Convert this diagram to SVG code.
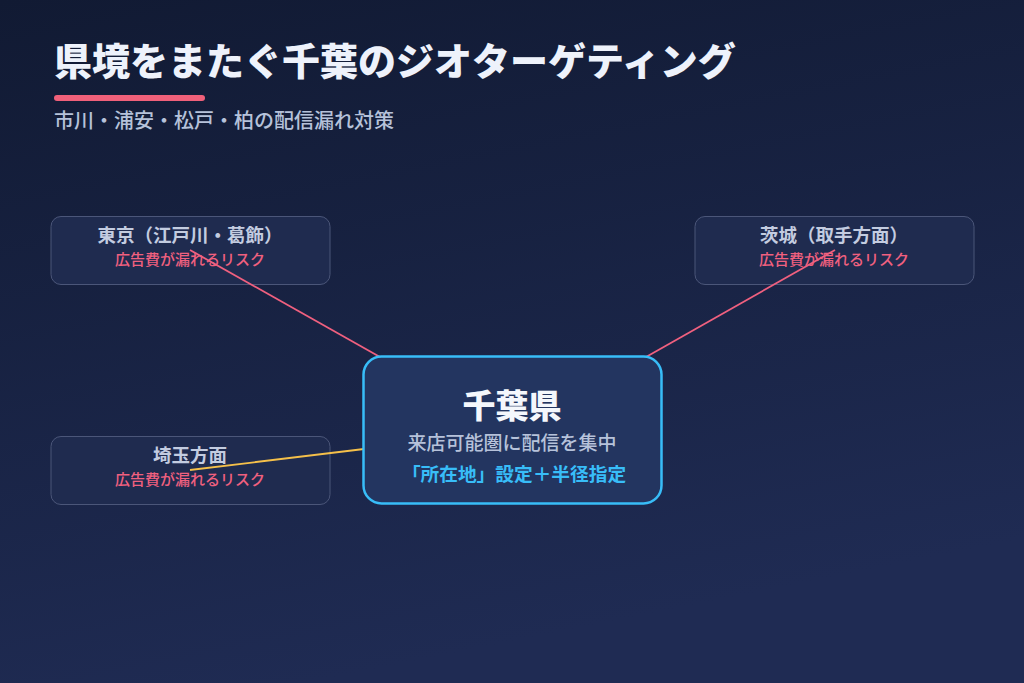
<svg xmlns="http://www.w3.org/2000/svg" width="1024" height="683" viewBox="0 0 1024 683">
<defs>
<linearGradient id="bg" x1="0" y1="0" x2="0.3" y2="1">
<stop offset="0" stop-color="#111a33"/>
<stop offset="1" stop-color="#1f2b53"/>
</linearGradient>
<style>
text{font-family:"Noto Sans CJK JP","Noto Sans",sans-serif}
.side rect{fill:#1f2b4f;stroke:#4b5679;stroke-width:1}
.st{font-size:18.5px;font-weight:700;fill:#c3cce0;text-anchor:middle}
.risk{font-size:15px;font-weight:500;fill:#f0607f;text-anchor:middle}
</style>
</defs>
<rect width="1024" height="683" fill="url(#bg)"/>
<g id="header">
<text x="54" y="75" font-size="38" font-weight="900" fill="#eef2fb">県境をまたぐ千葉のジオターゲティング</text>
<rect x="54" y="95" width="151" height="6" rx="3" fill="#f0607a"/>
<text x="54" y="128" font-size="20" font-weight="500" fill="#b6c2da">市川・浦安・松戸・柏の配信漏れ対策</text>
</g>
<g id="tokyo" class="side">
<rect x="51" y="216.5" width="279" height="68" rx="10"/>
<text class="st" x="190" y="242">東京（江戸川・葛飾）</text>
<text class="risk" x="190" y="265">広告費が漏れるリスク</text>
</g>
<g id="ibaraki" class="side">
<rect x="695" y="216.5" width="279" height="68" rx="10"/>
<text class="st" x="834" y="242">茨城（取手方面）</text>
<text class="risk" x="834" y="265">広告費が漏れるリスク</text>
</g>
<g id="saitama" class="side">
<rect x="51" y="436.5" width="279" height="68" rx="10"/>
<text class="st" x="190" y="462">埼玉方面</text>
<text class="risk" x="190" y="485">広告費が漏れるリスク</text>
</g>
<g id="connectors" fill="none" stroke-width="1.8">
<line x1="190" y1="250" x2="380" y2="357" stroke="#f0607f"/>
<line x1="835" y1="250" x2="646" y2="357" stroke="#f0607f"/>
<line x1="190" y1="470" x2="364" y2="449" stroke="#f5c04a"/>
</g>
<g id="chiba">
<rect x="363.5" y="356.5" width="298" height="147" rx="18" fill="#233560" stroke="#38bdf8" stroke-width="2.5"/>
<text x="512" y="418" font-size="33" font-weight="900" fill="#f4f7fc" text-anchor="middle">千葉県</text>
<text x="512" y="450" font-size="19" font-weight="500" fill="#b6c2da" text-anchor="middle">来店可能圏に配信を集中</text>
<text x="514" y="481" font-size="18.7" font-weight="700" fill="#38bdf8" text-anchor="middle">「所在地」設定＋半径指定</text>
</g>
</svg>
